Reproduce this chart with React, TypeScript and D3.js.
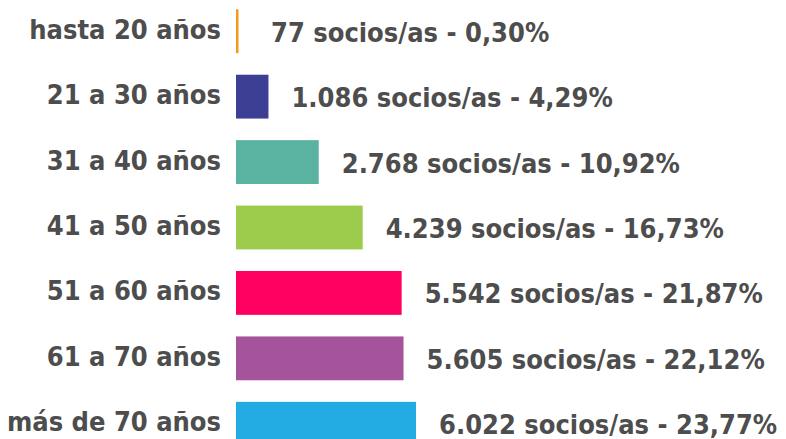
import React from "react";
import * as d3 from "d3";

const categories = ["hasta 20 años", "21 a 30 años", "31 a 40 años", "41 a 50 años", "51 a 60 años", "61 a 70 años", "más de 70 años"];
const socios = [77, 1086, 2768, 4239, 5542, 5605, 6022];
const percents = ["0,30%", "4,29%", "10,92%", "16,73%", "21,87%", "22,12%", "23,77%"];
const colors = ["#F39A1E", "#3C3F94", "#5AB2A1", "#9DCB4C", "#FF0060", "#A5539B", "#22ACE3"];

const W = 786;
const H = 439;
const margin = { left: 236, right: 10, top: 0, bottom: 0 };
const FONT = "'DejaVu Sans Condensed', 'DejaVu Sans', sans-serif";
const TEXT = "#4D4D4D";

const fmt = (n: number) => d3.format(",")(n).replace(/,/g, ".");

export default function App() {
  const x = d3.scaleLinear().domain([0, 6022]).range([margin.left, margin.left + 180]);
  const y = d3
    .scaleBand<string>()
    .domain(categories)
    .range([-1.5, 456.5])
    .paddingInner(0.33)
    .paddingOuter(0.165);

  return (
    <svg width={W} height={H} style={{ position: "absolute", left: 0, top: 0, background: "#fff" }}>
      {categories.map((c, i) => {
        const y0 = y(c)!;
        const bw = y.bandwidth();
        const cy = y0 + bw / 2;
        const xe = x(socios[i]);
        return (
          <g key={c}>
            <rect x={x(0)} y={y0} width={Math.max(2.5, xe - x(0))} height={bw} fill={colors[i]} />
            <text
              x={margin.left - 15}
              y={cy - 2}
              textAnchor="end"
              dominantBaseline="central"
              fontFamily={FONT}
              fontWeight="bold"
              fontSize={27}
              fill={TEXT}
            >
              {c}
            </text>
            <text
              x={Math.max(xe, x(0) + 12) + 23}
              y={cy + 1}
              textAnchor="start"
              dominantBaseline="central"
              fontFamily={FONT}
              fontWeight="bold"
              fontSize={27}
              fill={TEXT}
            >
              {`${fmt(socios[i])} socios/as - ${percents[i]}`}
            </text>
          </g>
        );
      })}
    </svg>
  );
}
